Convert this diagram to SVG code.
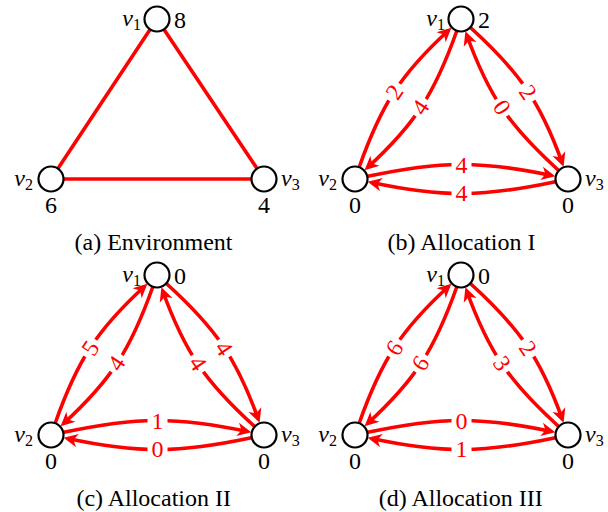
<svg xmlns="http://www.w3.org/2000/svg" width="608" height="512" viewBox="0 0 608 512">
<defs>
<style>
.nd{fill:#fff;stroke:#000;stroke-width:2.2}
.ed{fill:none;stroke:#f00;stroke-width:3.6}
.ar{fill:none;stroke:#f00;stroke-width:3.6;marker-end:url(#ah)}
.t{font-family:'Liberation Serif',serif;font-size:24px;fill:#000}
.sub{font-size:16px;font-style:normal}
.el{font-family:'Liberation Serif',serif;font-size:24px;fill:#f00;text-anchor:middle}
.lb{fill:#fff}
</style>
<marker id="ah" markerUnits="userSpaceOnUse" viewBox="-12 -8 18 16" markerWidth="18" markerHeight="16" refX="0" refY="0" orient="auto" overflow="visible">
<path d="M4,0 L-10,-6.8 L-6,0 L-10,6.8 Z" fill="#f00"/>
</marker>
</defs>
<rect width="608" height="512" fill="#fff"/>

<!-- Panel (a) -->
<g id="panel-a">
<g id="a-connectors">
<line class="ed" x1="157" y1="19" x2="51" y2="179"/>
<line class="ed" x1="157" y1="19" x2="264" y2="179"/>
<line class="ed" x1="51" y1="179" x2="264" y2="179"/>
</g>
<g id="a-v1"><circle class="nd" cx="157" cy="19" r="12.5"/><text class="t" x="141" y="26.3" text-anchor="end"><tspan font-style="italic">v</tspan><tspan class="sub" dy="3.5">1</tspan></text><text class="t" x="174" y="27.5">8</text></g>
<g id="a-v2"><circle class="nd" cx="51" cy="179" r="12.5"/><text class="t" x="33" y="186.3" text-anchor="end"><tspan font-style="italic">v</tspan><tspan class="sub" dy="3.5">2</tspan></text><text class="t" x="51" y="213" text-anchor="middle">6</text></g>
<g id="a-v3"><circle class="nd" cx="264" cy="179" r="12.5"/><text class="t" x="281" y="186.3"><tspan font-style="italic">v</tspan><tspan class="sub" dy="3.5">3</tspan></text><text class="t" x="264" y="213" text-anchor="middle">4</text></g>
<text class="t" x="153.5" y="250" text-anchor="middle">(a) Environment</text>
</g>

<!-- Panel (b) -->
<g id="panel-b" transform="translate(304,0)">
<g id="b-connectors">
<path class="ar" d="M55.35,166.75 C77.18,105.2 96.29,74.57 144.46,30.48"/>
<path class="ar" d="M152.65,31.25 C130.82,92.8 111.71,123.43 63.54,167.52"/>
<path class="ar" d="M166.62,27.74 C215.09,71.76 236.1,101.39 258.25,163.01"/>
<path class="ar" d="M254.38,170.26 C205.91,126.24 184.9,96.61 162.75,34.99"/>
<path class="ar" d="M63.72,176.3 C135.54,161.03 175.55,160.2 247.37,175.47"/>
<path class="ar" d="M251.28,181.7 C179.46,196.97 139.45,197.8 67.63,182.53"/>
<g transform="translate(90.5,92.2) rotate(-56.47)"><rect class="lb" x="-10" y="-11" width="20" height="22"/><text class="el" y="8">2</text></g>
<g transform="translate(116.5,107.3) rotate(-56.47)"><rect class="lb" x="-10" y="-11" width="20" height="22"/><text class="el" y="8">4</text></g>
<g transform="translate(224,92.2) rotate(56.23)"><rect class="lb" x="-10" y="-11" width="20" height="22"/><text class="el" y="8">2</text></g>
<g transform="translate(198,107.35) rotate(56.23)"><rect class="lb" x="-10" y="-11" width="20" height="22"/><text class="el" y="8">0</text></g>
<g transform="translate(157.5,164.85)"><rect class="lb" x="-10" y="-11" width="20" height="22"/><text class="el" y="8">4</text></g>
<g transform="translate(157.5,193.15)"><rect class="lb" x="-10" y="-11" width="20" height="22"/><text class="el" y="8">4</text></g>
</g>
<g id="b-v1"><circle class="nd" cx="157" cy="19" r="12.5"/><text class="t" x="141" y="26.3" text-anchor="end"><tspan font-style="italic">v</tspan><tspan class="sub" dy="3.5">1</tspan></text><text class="t" x="174" y="27.5">2</text></g>
<g id="b-v2"><circle class="nd" cx="51" cy="179" r="12.5"/><text class="t" x="33" y="186.3" text-anchor="end"><tspan font-style="italic">v</tspan><tspan class="sub" dy="3.5">2</tspan></text><text class="t" x="51" y="213" text-anchor="middle">0</text></g>
<g id="b-v3"><circle class="nd" cx="264" cy="179" r="12.5"/><text class="t" x="281" y="186.3"><tspan font-style="italic">v</tspan><tspan class="sub" dy="3.5">3</tspan></text><text class="t" x="264" y="213" text-anchor="middle">0</text></g>
<text class="t" x="157.5" y="250" text-anchor="middle">(b) Allocation I</text>
</g>

<!-- Panel (c) -->
<g id="panel-c" transform="translate(0,256)">
<g id="c-connectors">
<path class="ar" d="M55.35,166.75 C77.18,105.2 96.29,74.57 144.46,30.48"/>
<path class="ar" d="M152.65,31.25 C130.82,92.8 111.71,123.43 63.54,167.52"/>
<path class="ar" d="M166.62,27.74 C215.09,71.76 236.1,101.39 258.25,163.01"/>
<path class="ar" d="M254.38,170.26 C205.91,126.24 184.9,96.61 162.75,34.99"/>
<path class="ar" d="M63.72,176.3 C135.54,161.03 175.55,160.2 247.37,175.47"/>
<path class="ar" d="M251.28,181.7 C179.46,196.97 139.45,197.8 67.63,182.53"/>
<g transform="translate(90.5,92.2) rotate(-56.47)"><rect class="lb" x="-10" y="-11" width="20" height="22"/><text class="el" y="8">5</text></g>
<g transform="translate(116.5,107.3) rotate(-56.47)"><rect class="lb" x="-10" y="-11" width="20" height="22"/><text class="el" y="8">4</text></g>
<g transform="translate(224,92.2) rotate(56.23)"><rect class="lb" x="-10" y="-11" width="20" height="22"/><text class="el" y="8">4</text></g>
<g transform="translate(198,107.35) rotate(56.23)"><rect class="lb" x="-10" y="-11" width="20" height="22"/><text class="el" y="8">4</text></g>
<g transform="translate(157.5,164.85)"><rect class="lb" x="-10" y="-11" width="20" height="22"/><text class="el" y="8">1</text></g>
<g transform="translate(157.5,193.15)"><rect class="lb" x="-10" y="-11" width="20" height="22"/><text class="el" y="8">0</text></g>
</g>
<g id="c-v1"><circle class="nd" cx="157" cy="19" r="12.5"/><text class="t" x="141" y="26.3" text-anchor="end"><tspan font-style="italic">v</tspan><tspan class="sub" dy="3.5">1</tspan></text><text class="t" x="174" y="27.5">0</text></g>
<g id="c-v2"><circle class="nd" cx="51" cy="179" r="12.5"/><text class="t" x="33" y="186.3" text-anchor="end"><tspan font-style="italic">v</tspan><tspan class="sub" dy="3.5">2</tspan></text><text class="t" x="51" y="213" text-anchor="middle">0</text></g>
<g id="c-v3"><circle class="nd" cx="264" cy="179" r="12.5"/><text class="t" x="281" y="186.3"><tspan font-style="italic">v</tspan><tspan class="sub" dy="3.5">3</tspan></text><text class="t" x="264" y="213" text-anchor="middle">0</text></g>
<text class="t" x="153.7" y="250" text-anchor="middle">(c) Allocation II</text>
</g>

<!-- Panel (d) -->
<g id="panel-d" transform="translate(304,256)">
<g id="d-connectors">
<path class="ar" d="M55.35,166.75 C77.18,105.2 96.29,74.57 144.46,30.48"/>
<path class="ar" d="M152.65,31.25 C130.82,92.8 111.71,123.43 63.54,167.52"/>
<path class="ar" d="M166.62,27.74 C215.09,71.76 236.1,101.39 258.25,163.01"/>
<path class="ar" d="M254.38,170.26 C205.91,126.24 184.9,96.61 162.75,34.99"/>
<path class="ar" d="M63.72,176.3 C135.54,161.03 175.55,160.2 247.37,175.47"/>
<path class="ar" d="M251.28,181.7 C179.46,196.97 139.45,197.8 67.63,182.53"/>
<g transform="translate(90.5,92.2) rotate(-56.47)"><rect class="lb" x="-10" y="-11" width="20" height="22"/><text class="el" y="8">6</text></g>
<g transform="translate(116.5,107.3) rotate(-56.47)"><rect class="lb" x="-10" y="-11" width="20" height="22"/><text class="el" y="8">6</text></g>
<g transform="translate(224,92.2) rotate(56.23)"><rect class="lb" x="-10" y="-11" width="20" height="22"/><text class="el" y="8">2</text></g>
<g transform="translate(198,107.35) rotate(56.23)"><rect class="lb" x="-10" y="-11" width="20" height="22"/><text class="el" y="8">3</text></g>
<g transform="translate(157.5,164.85)"><rect class="lb" x="-10" y="-11" width="20" height="22"/><text class="el" y="8">0</text></g>
<g transform="translate(157.5,193.15)"><rect class="lb" x="-10" y="-11" width="20" height="22"/><text class="el" y="8">1</text></g>
</g>
<g id="d-v1"><circle class="nd" cx="157" cy="19" r="12.5"/><text class="t" x="141" y="26.3" text-anchor="end"><tspan font-style="italic">v</tspan><tspan class="sub" dy="3.5">1</tspan></text><text class="t" x="174" y="27.5">0</text></g>
<g id="d-v2"><circle class="nd" cx="51" cy="179" r="12.5"/><text class="t" x="33" y="186.3" text-anchor="end"><tspan font-style="italic">v</tspan><tspan class="sub" dy="3.5">2</tspan></text><text class="t" x="51" y="213" text-anchor="middle">0</text></g>
<g id="d-v3"><circle class="nd" cx="264" cy="179" r="12.5"/><text class="t" x="281" y="186.3"><tspan font-style="italic">v</tspan><tspan class="sub" dy="3.5">3</tspan></text><text class="t" x="264" y="213" text-anchor="middle">0</text></g>
<text class="t" x="156.7" y="250" text-anchor="middle">(d) Allocation III</text>
</g>
</svg>
